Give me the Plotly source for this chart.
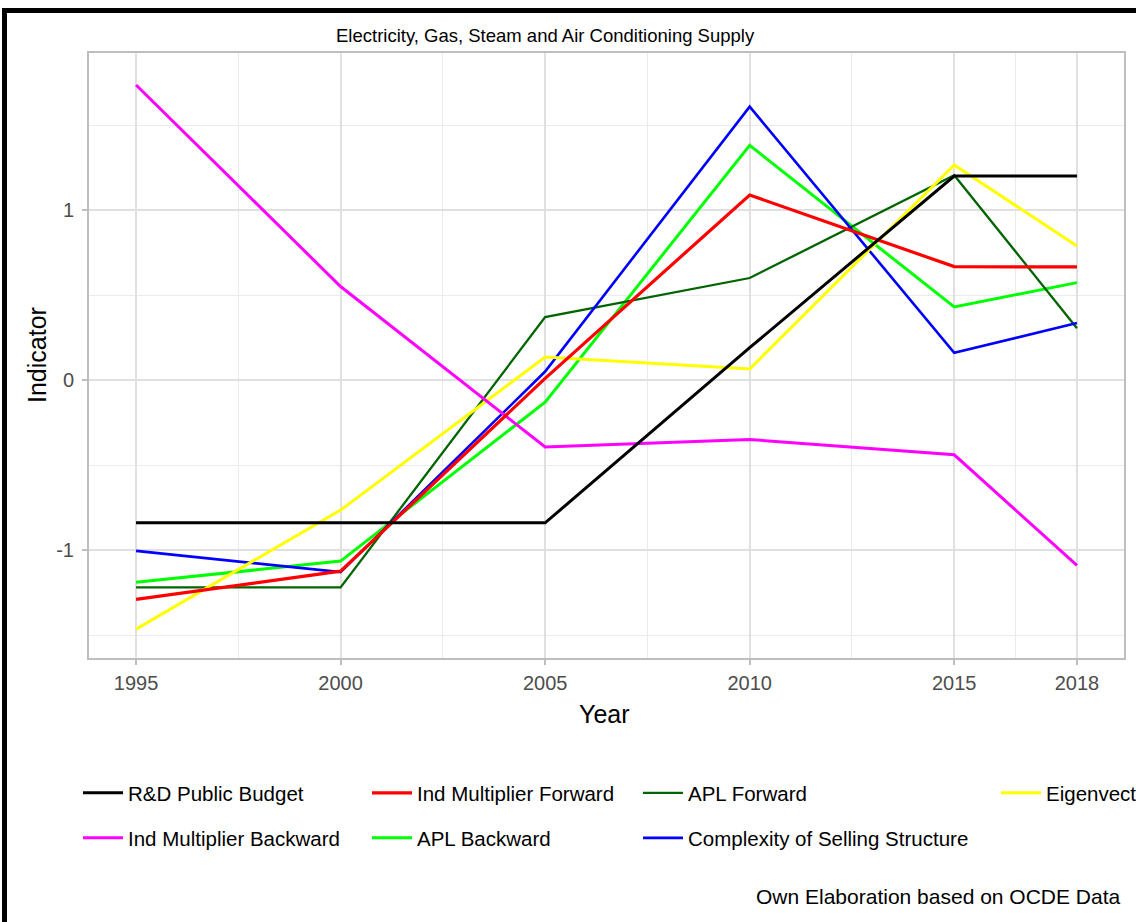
import plotly.graph_objects as go

# Indicator series by year (standardised values)
years = [1995, 2000, 2005, 2010, 2015, 2018]
rd_public_budget = [-0.84, -0.84, -0.84, 0.19, 1.20, 1.20]
ind_mult_forward = [-1.29, -1.124, 0.01, 1.088, 0.667, 0.665]
apl_forward = [-1.22, -1.22, 0.37, 0.60, 1.205, 0.305]
eigenvector = [-1.465, -0.765, 0.135, 0.065, 1.265, 0.788]
ind_mult_backward = [1.735, 0.55, -0.394, -0.35, -0.44, -1.09]
apl_backward = [-1.19, -1.065, -0.13, 1.38, 0.43, 0.573]
complexity = [-1.005, -1.13, 0.05, 1.608, 0.16, 0.335]

x_ticks = [1995, 2000, 2005, 2010, 2015, 2018]
x_minor = [1997.5, 2002.5, 2007.5, 2012.5, 2016.5]
y_ticks = [-1, 0, 1]
y_minor = [-1.5, -0.5, 0.5, 1.5]

W, H = 1136, 922
L, R, T, B = 89, 1124, 53, 658  # plot panel in pixels

def px_x(p):
    return (p - L) / (R - L)

def px_y(p):
    return (B - p) / (B - T)

FONT = "Liberation Sans, Arial, sans-serif"

# (name, values, colour, width, legend id, legend position in px)
series = [
    ("APL Backward", apl_backward, "#00FF00", 3.0, "legend4", (367, 838)),
    ("APL Forward", apl_forward, "#006400", 2.3, "legend5", (638, 793)),
    ("Complexity of Selling Structure", complexity, "#0000FF", 2.6, "legend6", (638, 838)),
    ("Eigenvector Centrality", eigenvector, "#FFFF00", 3.0, "legend7", (996, 793)),
    ("Ind Multiplier Backward", ind_mult_backward, "#FF00FF", 3.0, "legend2", (78, 838)),
    ("Ind Multiplier Forward", ind_mult_forward, "#FF0000", 3.2, "legend3", (367, 793)),
    ("R&D Public Budget", rd_public_budget, "#000000", 3.0, "legend", (78, 793)),
]

fig = go.Figure()
legends = {}
for name, vals, color, width, leg, (lx, ly) in series:
    fig.add_trace(go.Scatter(
        x=years, y=vals, mode="lines", name=name,
        line=dict(color=color, width=width),
        legend=leg, showlegend=True,
    ))
    legends[leg] = dict(
        x=px_x(lx), y=px_y(ly), xanchor="left", yanchor="middle",
        orientation="v", bgcolor="rgba(0,0,0,0)", borderwidth=0,
        font=dict(family=FONT, size=20.5, color="#000000"),
        itemwidth=40,
    )

grid_major = "#E0E0E0"
grid_minor = "#EBEBEB"
border = "#BEBEBE"

fig.update_layout(
    width=W, height=H,
    margin=dict(l=L, r=W - R, t=T, b=H - B, autoexpand=False),
    paper_bgcolor="white", plot_bgcolor="white",
    font=dict(family=FONT),
    **legends,
    xaxis=dict(
        range=[1993.85, 2019.15], tickmode="array", tickvals=x_ticks,
        ticktext=[str(v) for v in x_ticks],
        showgrid=True, gridcolor=grid_major, gridwidth=1.8,
        minor=dict(tickmode="array", tickvals=x_minor, showgrid=True,
                   gridcolor=grid_minor, gridwidth=1.3, ticks=""),
        ticks="outside", ticklen=5, tickwidth=1.8, tickcolor=border,
        tickfont=dict(family=FONT, size=20, color="#4D4D4D"),
        showline=True, mirror=True, linecolor=border, linewidth=2,
        zeroline=False, ticklabelstandoff=1,
    ),
    yaxis=dict(
        range=[-1.635, 1.9235], tickmode="array", tickvals=y_ticks,
        ticktext=[str(v) for v in y_ticks],
        showgrid=True, gridcolor=grid_major, gridwidth=1.8,
        minor=dict(tickmode="array", tickvals=y_minor, showgrid=True,
                   gridcolor=grid_minor, gridwidth=1.3, ticks=""),
        ticks="outside", ticklen=5, tickwidth=1.8, tickcolor=border,
        tickfont=dict(family=FONT, size=20, color="#4D4D4D"),
        showline=True, mirror=True, linecolor=border, linewidth=2,
        zeroline=False, ticklabelstandoff=4,
    ),
    annotations=[
        dict(text="Electricity, Gas, Steam and Air Conditioning Supply",
             x=px_x(545), y=px_y(35), xref="paper", yref="paper",
             xanchor="center", yanchor="middle", showarrow=False,
             font=dict(family=FONT, size=18.5, color="#000000")),
        dict(text="Year", x=px_x(604), y=px_y(714), xref="paper", yref="paper",
             xanchor="center", yanchor="middle", showarrow=False,
             font=dict(family=FONT, size=25, color="#000000")),
        dict(text="Indicator", x=px_x(37), y=px_y(355), xref="paper", yref="paper",
             xanchor="center", yanchor="middle", showarrow=False, textangle=-90,
             font=dict(family=FONT, size=25, color="#000000")),
        dict(text="Own Elaboration based on OCDE Data", x=px_x(1123), y=px_y(896),
             xref="paper", yref="paper", xanchor="right", yanchor="middle",
             showarrow=False, font=dict(family=FONT, size=21, color="#000000")),
    ],
    shapes=[
        dict(type="rect", xref="paper", yref="paper",
             x0=px_x(4.5), x1=px_x(1300), y0=px_y(1100), y1=px_y(10.5),
             line=dict(color="#000000", width=5), fillcolor="rgba(0,0,0,0)",
             layer="above"),
    ],
)

fig.write_html("out.html")
